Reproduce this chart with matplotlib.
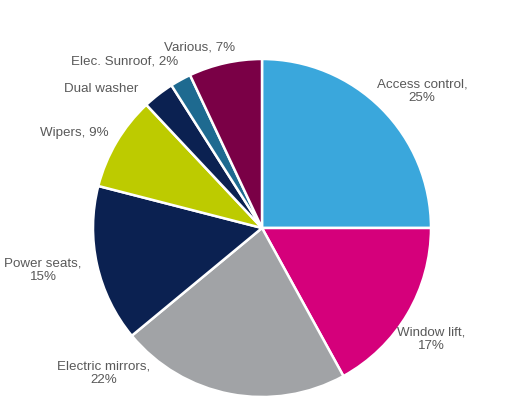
import matplotlib
matplotlib.use("Agg")
import matplotlib.pyplot as plt

categories = ["Access control", "Window lift", "Electric mirrors", "Power seats",
              "Wipers", "Dual washer", "Elec. Sunroof", "Various"]
values = [25, 17, 22, 15, 9, 3, 2, 7]
labels = ["Access control,\n25%", "Window lift,\n17%", "Electric mirrors,\n22%",
          "Power seats,\n15%", "Wipers, 9%", "Dual washer", "Elec. Sunroof, 2%", "Various, 7%"]
colors = ["#3AA7DC", "#D5007B", "#A1A3A6", "#0B2151", "#BDCB00", "#0B2151", "#1E6A90", "#7A0046"]

# label positions in pixel coords (x, y from top)
label_pos = [(422, 91), (431, 339), (104, 373), (43, 270), (74, 133),
             (101, 89), (125, 62), (200, 48)]

W, H = 507, 418
fig = plt.figure(figsize=(W / 100, H / 100), dpi=100)
ax = fig.add_axes([0, 0, 1, 1])

cx, cy, r = 262, H - 228, 169
ax.pie(values, colors=colors, startangle=90, counterclock=False,
       center=(cx, cy), radius=r, frame=True,
       wedgeprops=dict(edgecolor="white", linewidth=1.8))
ax.set_xlim(0, W)
ax.set_ylim(0, H)
ax.set_aspect("equal")
ax.axis("off")

for lab, (x, y) in zip(labels, label_pos):
    ax.text(x, H - y, lab, ha="center", va="center", fontsize=9.6,
            family="Liberation Sans", color="#595959", linespacing=1.2)

fig.savefig("out.png", dpi=100)
